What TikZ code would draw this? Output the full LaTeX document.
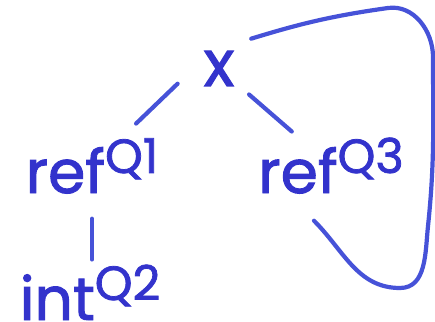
\documentclass[tikz,border=0pt]{standalone}
\usepackage{fontspec}
\setmainfont{Poppins}
\newfontfamily\handfont{Poppins}[FakeBold=1.6]
\usetikzlibrary{positioning,calc}
\definecolor{txtblue}{RGB}{51,51,204}
\definecolor{lineblue}{RGB}{70,82,216}
\newcommand{\qsup}[1]{\raisebox{20pt}{\fontsize{48pt}{48pt}\selectfont #1}}
\begin{document}
\begin{tikzpicture}[x=1pt, y=1pt,
  lbl/.style={text=txtblue, font=\handfont\fontsize{60pt}{60pt}\selectfont, inner sep=0pt, anchor=base},
  link/.style={draw=lineblue, line width=4.2pt, line cap=round}]
\useasboundingbox (0,0) rectangle (435,321);
\node[lbl, inner sep=10pt, font=\handfont\fontsize{64pt}{64pt}\selectfont] (xv) at (219,235) {x};
\node[lbl] (r1) at (92,128) {ref\qsup{Q1}};
\node[lbl] (r3) at (331,128) {ref\qsup{Q3}};
\node[lbl] (i2) at (90,1) {int\qsup{Q2}};
\coordinate[below left=27pt and 17pt of r3.south] (r3tail);
\draw[link, shorten <=21pt, shorten >=22pt] (r1) -- (xv.west);
\draw[link, shorten <=6pt, shorten >=9pt] (xv) -- (r3);
\draw[link, shorten <=25pt, shorten >=5pt] (r1.south) -- (r1.south |- i2.north);
\draw[link, shorten <=7pt] (xv.north east) to[out=17, in=-172] (388,313) to[out=8, in=90] (433,264)
  to[out=-90, in=84] (428,95) to[out=-96, in=0] (400,33) to[out=180, in=-45] (r3tail);
\end{tikzpicture}
\end{document}
